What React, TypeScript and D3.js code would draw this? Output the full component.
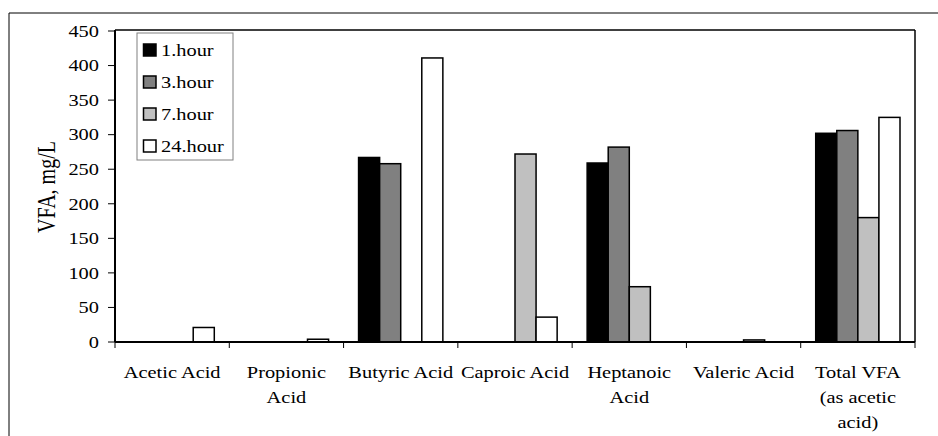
import React from "react";
import * as d3 from "d3";

const categories = [
  "Acetic Acid",
  "Propionic\nAcid",
  "Butyric Acid",
  "Caproic Acid",
  "Heptanoic\nAcid",
  "Valeric Acid",
  "Total VFA\n(as acetic\nacid)",
];
const seriesNames = ["1.hour", "3.hour", "7.hour", "24.hour"];
const seriesColors = ["#000000", "#808080", "#C0C0C0", "#FFFFFF"];
const hour1 = [0, 0, 267, 0, 259, 0, 302];
const hour3 = [0, 0, 258, 0, 282, 0, 306];
const hour7 = [0, 0, 0, 272, 80, 3, 180];
const hour24 = [21, 4, 411, 36, 0, 0, 325];
const seriesValues = [hour1, hour3, hour7, hour24];
const yTicks = [0, 50, 100, 150, 200, 250, 300, 350, 400, 450];

const FONT = "'Liberation Serif', 'Times New Roman', serif";
const SX = 1.2;

function T({ x, y, children, anchor = "start", size = 17 }: any) {
  return (
    <text
      transform={`translate(${x},${y}) scale(${SX},1)`}
      textAnchor={anchor}
      fontFamily={FONT}
      fontSize={size}
      fill="#000"
    >
      {children}
    </text>
  );
}

export default function App() {
  const W = 938;
  const H = 436;
  const left = 115;
  const right = 915;
  const top = 30;
  const bottom = 342;

  const x0 = d3.scaleBand<string>().domain(categories).range([left, right]).padding(0);
  const bw = x0.bandwidth();
  const x1 = d3
    .scaleBand<string>()
    .domain(seriesNames)
    .range([15, bw - 15])
    .padding(0);
  const y = d3.scaleLinear().domain([0, 450]).range([bottom, 31]);

  return (
    <svg
      width={W}
      height={H}
      style={{ position: "absolute", left: 0, top: 0, background: "#fff" }}
    >
      <rect x={0} y={0} width={W} height={H} fill="#fff" />
      {/* outer frame */}
      <line x1={9} y1={13} x2={W} y2={13} stroke="#000" strokeWidth={1} />
      <line x1={9} y1={13} x2={9} y2={H} stroke="#000" strokeWidth={1} />

      {/* plot frame */}
      <line x1={left} y1={top} x2={right} y2={top} stroke="#000" strokeWidth={1.5} />
      <line x1={right} y1={top} x2={right} y2={bottom} stroke="#000" strokeWidth={1.5} />

      {/* bars */}
      {categories.map((c, ci) =>
        seriesNames.map((s, si) => {
          const v = seriesValues[si][ci];
          if (!v) return null;
          const bx = (x0(c) as number) + (x1(s) as number);
          return (
            <rect
              key={c + s}
              x={bx}
              y={y(v)}
              width={x1.bandwidth()}
              height={bottom - y(v)}
              fill={seriesColors[si]}
              stroke="#000"
              strokeWidth={1.5}
            />
          );
        })
      )}

      {/* y axis */}
      <line x1={left} y1={top} x2={left} y2={bottom} stroke="#000" strokeWidth={2} />
      {yTicks.map((t) => (
        <g key={t}>
          <line x1={left - 7} x2={left} y1={y(t)} y2={y(t)} stroke="#000" strokeWidth={1} />
          <T x={99} y={y(t) + 5.8} anchor="end">
            {t}
          </T>
        </g>
      ))}

      {/* x axis */}
      <line x1={left} y1={bottom} x2={right} y2={bottom} stroke="#000" strokeWidth={2} />
      {[...categories.map((c) => x0(c) as number), right].map((tx, i) => (
        <line key={i} x1={tx} x2={tx} y1={bottom} y2={bottom + 6} stroke="#000" strokeWidth={1} />
      ))}
      {categories.map((c) => {
        const cx = (x0(c) as number) + bw / 2;
        return c.split("\n").map((ln, li) => (
          <T key={c + li} x={cx} y={378 + li * 24.8} anchor="middle">
            {ln}
          </T>
        ));
      })}

      {/* y title */}
      <text
        transform={`translate(55,187) scale(1.25,1) rotate(-90)`}
        textAnchor="middle"
        fontFamily={FONT}
        fontSize={20}
        fill="#000"
      >
        VFA, mg/L
      </text>

      {/* legend */}
      <rect x={137} y={33} width={96} height={127} fill="#fff" stroke="#808080" strokeWidth={1} />
      {seriesNames.map((s, i) => (
        <g key={s}>
          <rect
            x={143.5}
            y={44 + i * 32}
            width={12.5}
            height={12}
            fill={seriesColors[i]}
            stroke="#000"
            strokeWidth={1.5}
          />
          <T x={161} y={56 + i * 32}>
            {s}
          </T>
        </g>
      ))}
    </svg>
  );
}
